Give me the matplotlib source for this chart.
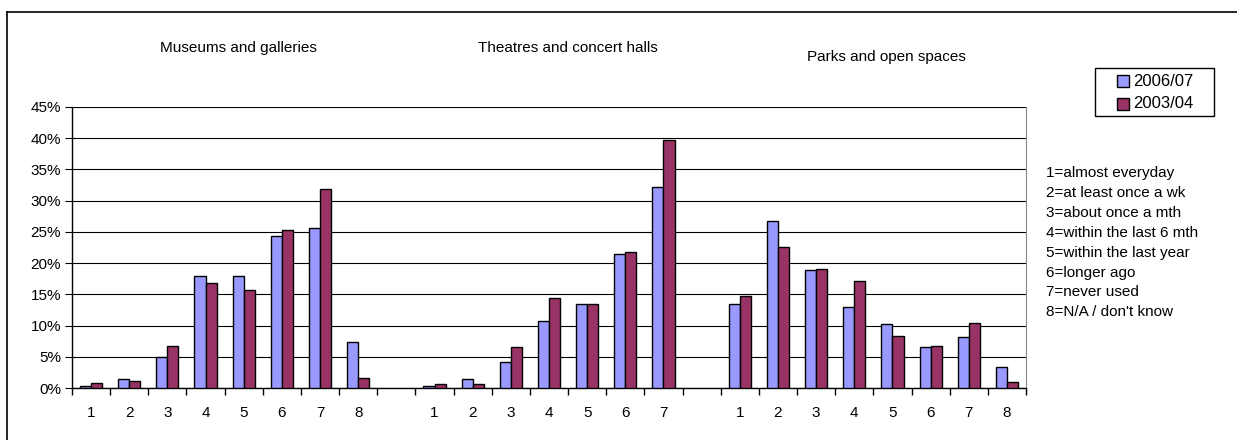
import numpy as np
import matplotlib
matplotlib.use("Agg")
import matplotlib.pyplot as plt
from matplotlib.lines import Line2D
from matplotlib.patches import Rectangle

plt.rcParams['font.family'] = ['Liberation Sans', 'DejaVu Sans']

# data (fractions)
groups = ["Museums and galleries", "Theatres and concert halls", "Parks and open spaces"]
museums_0607 = [0.003, 0.0145, 0.049, 0.179, 0.180, 0.244, 0.257, 0.073]
museums_0304 = [0.0075, 0.012, 0.067, 0.168, 0.157, 0.253, 0.319, 0.0155]
theatres_0607 = [0.0027, 0.014, 0.041, 0.108, 0.135, 0.214, 0.322]
theatres_0304 = [0.006, 0.007, 0.066, 0.144, 0.134, 0.218, 0.397]
parks_0607 = [0.134, 0.268, 0.189, 0.129, 0.102, 0.065, 0.082, 0.033]
parks_0304 = [0.147, 0.225, 0.190, 0.171, 0.084, 0.067, 0.104, 0.010]
series_names = ["2006/07", "2003/04"]
series_colors = ["#9999FF", "#993366"]
key_lines = ["1=almost everyday", "2=at least once a wk", "3=about once a mth",
             "4=within the last 6 mth", "5=within the last year", "6=longer ago",
             "7=never used", "8=N/A / don't know"]

# lay the three groups out on one axis with an empty slot between them
blue, red, labels = [], [], []
for i, (a, b) in enumerate([(museums_0607, museums_0304),
                            (theatres_0607, theatres_0304),
                            (parks_0607, parks_0304)]):
    if i > 0:
        blue.append(np.nan); red.append(np.nan); labels.append("")
    blue += a
    red += b
    labels += [str(k + 1) for k in range(len(a))]
x = np.arange(len(labels))

W, H = 1237, 440
fig = plt.figure(figsize=(W/100, H/100), dpi=100)
ax = fig.add_axes([72/W, 1 - 388/H, 954/W, 281/H])

w = 0.29
ax.bar(x - w/2, blue, w, color=series_colors[0], edgecolor="black", linewidth=1, zorder=3)
ax.bar(x + w/2, red, w, color=series_colors[1], edgecolor="black", linewidth=1, zorder=3)

ax.set_xlim(-0.5, len(labels) - 0.5)
ax.set_ylim(0, 0.45)
ax.set_yticks(np.arange(0, 0.451, 0.05))
ax.set_yticklabels([f"{int(round(v*100))}%" for v in np.arange(0, 0.451, 0.05)])
ax.yaxis.grid(True, color="black", linewidth=0.8, zorder=0)
ax.set_xticks(x)
ax.set_xticklabels(labels)
ax.set_xticks(np.arange(-0.5, len(labels)), minor=True)
ax.tick_params(axis="x", which="major", length=0, pad=13, labelsize=11)
ax.tick_params(axis="x", which="minor", length=5, direction="out", width=1)
ax.tick_params(axis="y", length=5, direction="out", labelsize=11, pad=3)
ax.spines["top"].set_visible(False)
ax.spines["right"].set_color("#888888")
for s in ["left", "bottom"]:
    ax.spines[s].set_linewidth(1)

# group titles
fig.text(238/W, 1 - 48/H, groups[0], ha="center", va="center", fontsize=11)
fig.text(568/W, 1 - 48/H, groups[1], ha="center", va="center", fontsize=11)
fig.text(886/W, 1 - 57/H, groups[2], ha="center", va="center", fontsize=11)

# legend box drawn by hand (Excel style, wide padding)
fig.add_artist(Rectangle((1095/W, 1 - 116/H), 119/W, 48/H, transform=fig.transFigure,
                         facecolor="white", edgecolor="black", lw=1))
for k, (name, col) in enumerate(zip(series_names, series_colors)):
    yc = 81 + k*23
    fig.add_artist(Rectangle((1117/W, 1 - (yc + 6)/H), 12/W, 12/H, transform=fig.transFigure,
                             facecolor=col, edgecolor="black", lw=1))
    fig.text(1133/W, 1 - yc/H, name, ha="left", va="center", fontsize=12)

# key for the numbered answers
for k, line in enumerate(key_lines):
    fig.text(1046/W, 1 - (173 + k*19.9)/H, line, ha="left", va="center", fontsize=11)

# outer frame (only left and top edges visible)
fig.add_artist(Line2D([7/W, 7/W], [0, 1 - 12/H], color="black", lw=1.2))
fig.add_artist(Line2D([7/W, 1], [1 - 12/H, 1 - 12/H], color="black", lw=1.2))

fig.savefig("out.png", dpi=100)
